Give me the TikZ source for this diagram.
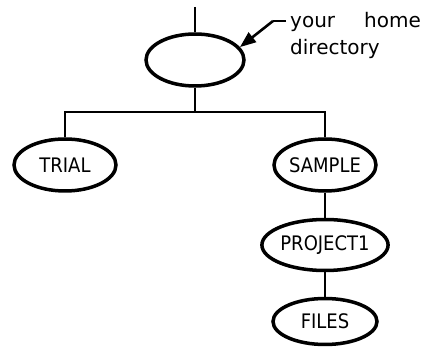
\documentclass[tikz,border=0pt]{standalone}
\usepackage{fontspec}
\setmainfont{DejaVu Sans}
\newfontfamily\dirfont[FakeStretch=0.9]{DejaVu Sans}
\usetikzlibrary{shapes.geometric,arrows.meta}

\tikzset{
  dirbox/.style={draw, ellipse, line width=3.5pt, inner sep=0pt,
    font=\dirfont\fontsize{20}{20}\selectfont},
  conn/.style={line width=2.2pt},
  note/.style={anchor=base west, inner xsep=4pt, inner ysep=0pt,
    font=\fontsize{20}{20}\selectfont}
}

\begin{document}
\begin{tikzpicture}[x=1pt,y=-1pt]
  \useasboundingbox (0,0) rectangle (426,347);

  % directory tree
  \node[dirbox, minimum width=98pt, minimum height=52pt] (home) at (195,60) {};
  \node[dirbox, minimum width=102pt, minimum height=52pt] (trial) at (65,165) {TRIAL};
  \node[dirbox, minimum width=102pt, minimum height=52pt] (sample) at (325,165) {SAMPLE};
  \node[dirbox, minimum width=107pt, minimum height=51pt] (proj) at (325,245) {PROJECT1};
  \node[dirbox, minimum width=104pt, minimum height=46pt] (files) at (325,321.5) {FILES};

  \coordinate (up) at (195,7);
  \coordinate (bar) at (0,112);

  \draw[conn] (up) -- (home.north);
  \draw[conn] (home.south) -- (home.south |- bar);
  \draw[conn] (trial.north) |- (sample.north |- bar) -- (sample.north);
  \draw[conn] (sample.south) -- (proj.north);
  \draw[conn] (proj.south) -- (files.north);

  % callout
  \node[note] (lbl1) at (286,28) {your\hspace{29pt}home};
  \node[note] (lbl2) at (286,55) {directory};
  \coordinate (lead) at (273,21);
  \draw[conn, line width=2.6pt] (lbl1.west |- lead) -- (lead);
  \draw[conn, line width=2.6pt, -{Triangle[length=16pt,width=12pt]}] (lead) -- (home.16);
\end{tikzpicture}
\end{document}
